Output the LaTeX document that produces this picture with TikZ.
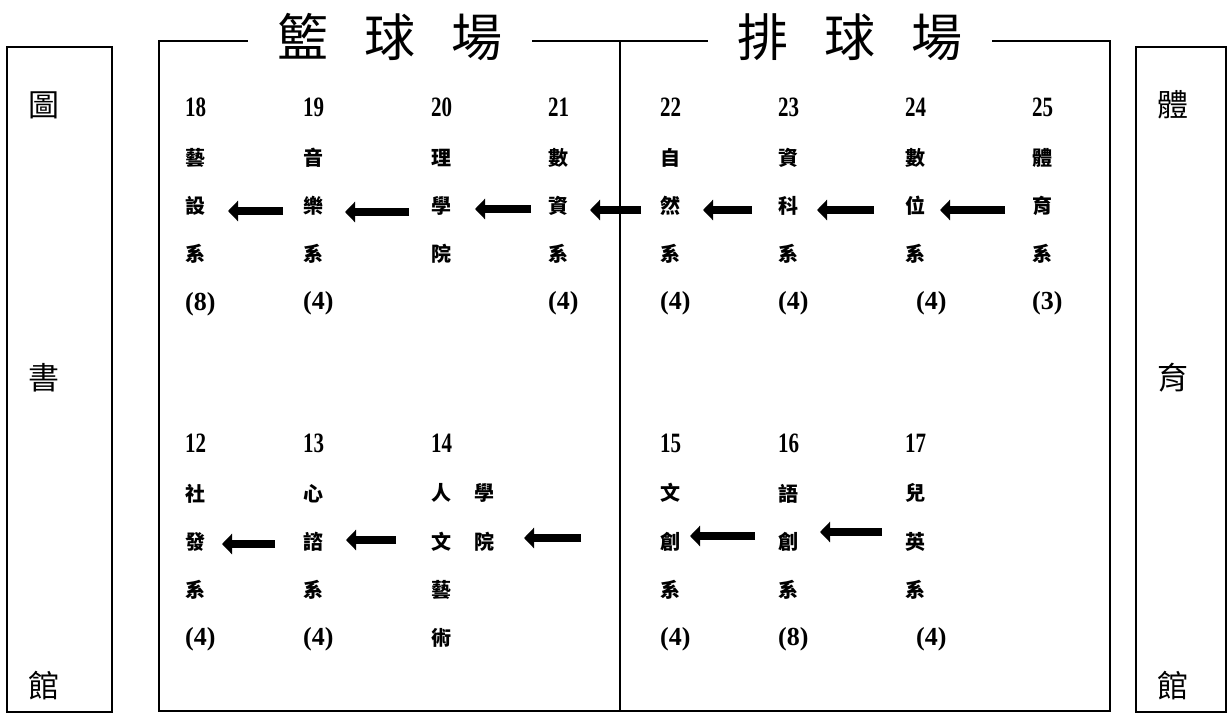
\documentclass[tikz,border=0pt]{standalone}
\usepackage{fontspec}
\setmainfont{Liberation Serif}
\newfontfamily\cjk{Noto Sans CJK TC}
\newfontfamily\numf[FakeStretch=0.75]{Liberation Serif}
\usetikzlibrary{arrows.meta,positioning}
\tikzset{
	frame/.style={line width=1.6pt},
	court/.style={font=\cjk\fontsize{51}{51}\selectfont, inner xsep=30pt, inner ysep=0pt},
	hall/.style={font=\cjk\fontsize{31}{31}\selectfont, inner sep=0pt},
	hallbox/.style={draw, frame, anchor=north west, inner sep=0pt, minimum height=665pt},
	dept/.style={anchor=north west, inner sep=0pt, align=left,
		font=\cjk\bfseries\fontsize{20}{48.3}\selectfont},
	moveto/.style={line width=8pt, -{Triangle[length=10pt,width=20pt]}}
}
\newcommand{\nr}[1]{{\numf\bfseries\fontsize{28}{48.3}\selectfont #1}}
\newcommand{\cnt}[1]{{\rmfamily\bfseries\fontsize{26}{48.3}\selectfont (#1)}}

\begin{document}
\begin{tikzpicture}[x=1pt,y=-1pt]
	\useasboundingbox (0,0) rectangle (1230,713);
	% side halls
	\node[hallbox, minimum width=105pt] (lib) at (6,46) {};
	\node[hall] (lib1) at (44,105) {圖};
	\node[hall] (lib2) at (44,378) {書};
	\node[hall] (lib3) at (44,686) {館};
	\node[hallbox, minimum width=90pt] (gym) at (1135,46) {};
	\node[hall] (gym1) at (1173,105) {體};
	\node[hall] (gym2) at (1173,378) {育};
	\node[hall] (gym3) at (1173,686) {館};
	% courts
	\coordinate (mtl) at (159,41);
	\coordinate (mtr) at (1110,41);
	\coordinate (mbl) at (159,711);
	\coordinate (mbr) at (1110,711);
	\coordinate (mid) at (620,41);
	\coordinate (midb) at (620,711);
	\node[court] (bball) at (390,37) {籃\hspace{.7em}球\hspace{.7em}場};
	\node[court] (vball) at (850,37) {排\hspace{.7em}球\hspace{.7em}場};
	\draw[frame] (bball.west |- mtl) -- (mtl) -- (mbl) -- (mbr) -- (mtr) -- (vball.east |- mtr);
	\draw[frame] (bball.east |- mtl) -- (vball.west |- mtl);
	\draw[frame] (mid) -- (midb);
	% upper row
	\node[dept] (d18) at (185,98) {\nr{18}\\藝\\設\\系\\\cnt{8}};
	\node[dept] (d19) at (303,98) {\nr{19}\\音\\樂\\系\\\cnt{4}};
	\node[dept] (d20) at (431,98) {\nr{20}\\理\\學\\院};
	\node[dept] (d21) at (548,98) {\nr{21}\\數\\資\\系\\\cnt{4}};
	\node[dept] (d22) at (660,98) {\nr{22}\\自\\然\\系\\\cnt{4}};
	\node[dept] (d23) at (778,98) {\nr{23}\\資\\科\\系\\\cnt{4}};
	\node[dept] (d24) at (905,98) {\nr{24}\\數\\位\\系\\\hspace{11pt}\cnt{4}};
	\node[dept] (d25) at (1032,98) {\nr{25}\\體\\育\\系\\\cnt{3}};
	% lower row
	\node[dept] (d12) at (185,434) {\nr{12}\\社\\發\\系\\\cnt{4}};
	\node[dept] (d13) at (303,434) {\nr{13}\\心\\諮\\系\\\cnt{4}};
	\node[dept] (d14) at (431,434) {\nr{14}\\人\hspace{23pt}學\\文\hspace{23pt}院\\藝\\術};
	\node[dept] (d15) at (660,434) {\nr{15}\\文\\創\\系\\\cnt{4}};
	\node[dept] (d16) at (778,434) {\nr{16}\\語\\創\\系\\\cnt{8}};
	\node[dept] (d17) at (905,434) {\nr{17}\\兒\\英\\系\\\hspace{11pt}\cnt{4}};
	% arrows
	\foreach \n/\xa/\xb/\y in {1/283/228/211, 2/409/345/212, 3/531/475/209, 4/641/590/210,
		5/752/703/210, 6/874/817/210, 7/1005/940/210, 8/275/222/544, 9/396/346/540,
		10/581/524/538, 11/755/690/536, 12/882/820/532} {
		\coordinate (s\n) at (\xa,\y);
		\coordinate (e\n) at (\xb,\y);
		\draw[moveto] (s\n) -- (e\n);
	}
\end{tikzpicture}
\end{document}
